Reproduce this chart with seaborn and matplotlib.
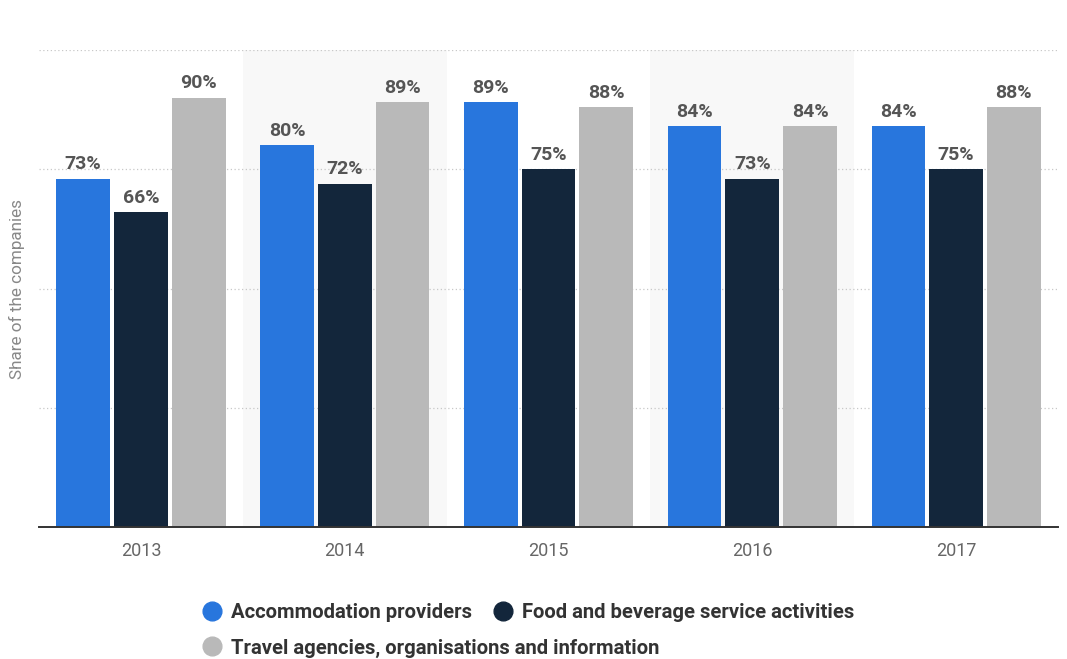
import matplotlib
matplotlib.use("Agg")
import matplotlib.pyplot as plt
from matplotlib.lines import Line2D
import seaborn as sns
import pandas as pd

# Share of companies by sector and year (%)
years = ["2013", "2014", "2015", "2016", "2017"]
accommodation = [73, 80, 89, 84, 84]
food_beverage = [66, 72, 75, 73, 75]
travel_agencies = [90, 89, 88, 84, 88]

series_names = [
    "Accommodation providers",
    "Food and beverage service activities",
    "Travel agencies, organisations and information",
]
series_values = [accommodation, food_beverage, travel_agencies]
series_colors = ["#2876dd", "#13263b", "#b9b9b9"]

df = pd.DataFrame(
    [
        {"year": y, "sector": name, "share": v}
        for name, vals in zip(series_names, series_values)
        for y, v in zip(years, vals)
    ]
)

sns.set_theme(style="white")
plt.rcParams["font.family"] = ["Roboto", "DejaVu Sans"]

fig = plt.figure(figsize=(10.67, 6.59), dpi=100)
ax = fig.add_axes([0.0366, 0.2003, 0.9550, 0.7238])

# alternating background bands
for i in range(len(years)):
    if i % 2 == 1:
        ax.axvspan(i - 0.5, i + 0.5, color="#f8f8f8", zorder=0, lw=0)

sns.barplot(
    data=df, x="year", y="share", hue="sector",
    hue_order=series_names, palette=series_colors,
    width=0.85, gap=0.07, saturation=1, ax=ax, legend=False, zorder=3,
    linewidth=0,
)

for container in ax.containers:
    ax.bar_label(container, labels=[f"{v:.0f}%" for v in container.datavalues],
                 padding=4, fontsize=14, fontweight="bold", color="#555555")

ax.set_xlim(-0.5, len(years) - 0.5)
ax.set_ylim(0, 100)
ax.set_yticks([25, 50, 75, 100])
ax.set_yticklabels([])
ax.tick_params(axis="y", length=0)
ax.tick_params(axis="x", length=0, pad=11, labelsize=13, labelcolor="#666666")
ax.yaxis.grid(True, linestyle=(0, (1, 2)), color="#c8c8c8", linewidth=0.9)
ax.set_axisbelow(True)
for s in ["top", "right", "left"]:
    ax.spines[s].set_visible(False)
ax.spines["bottom"].set_color("#333333")
ax.spines["bottom"].set_linewidth(1.4)
ax.spines["bottom"].set_zorder(5)

ax.set_xlabel("")
ax.set_ylabel("")
fig.text(17 / 1067, 1 - 289 / 659, "Share of the companies", rotation=90,
         ha="center", va="center", fontsize=12.3, color="#888888")

def handle(c):
    return Line2D([], [], marker="o", linestyle="", markersize=13.5,
                  markerfacecolor=c, markeredgecolor=c)

leg_kw = dict(frameon=False, handletextpad=0.45, columnspacing=1.0,
              prop={"size": 14.6, "weight": "bold"}, labelcolor="#333333",
              handlelength=1.0, borderaxespad=0, borderpad=0)
leg1 = fig.legend([handle(series_colors[0]), handle(series_colors[1])],
                  series_names[:2], ncol=2, loc="center left",
                  bbox_to_anchor=(202 / 1067, 1 - 613 / 659), **leg_kw)
leg2 = fig.legend([handle(series_colors[2])], series_names[2:], ncol=1,
                  loc="center left", bbox_to_anchor=(202 / 1067, 1 - 648 / 659),
                  **leg_kw)

fig.savefig("out.png", dpi=100)
